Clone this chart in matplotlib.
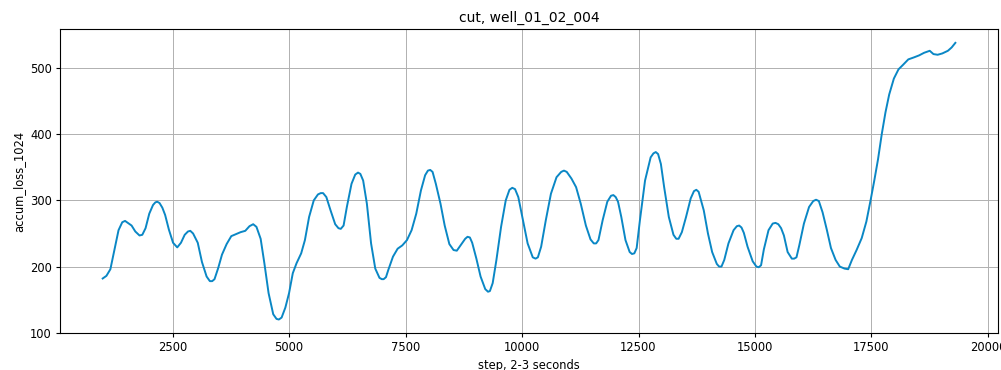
import matplotlib
matplotlib.use("Agg")
import matplotlib.pyplot as plt

# pasos y pérdida acumulada
steps = [1000, 1080, 1165, 1250, 1340, 1420, 1480, 1560, 1620, 1700, 1790, 1850, 1920, 2000,
         2080, 2130, 2170, 2220, 2280, 2340, 2420, 2510, 2600, 2680, 2760, 2830, 2880, 2940,
         3040, 3130, 3230, 3300, 3350, 3400, 3480, 3560, 3660, 3760, 3860, 3960, 4060, 4150,
         4230, 4300, 4390, 4470, 4560, 4660, 4730, 4780, 4840, 4920, 5000, 5080, 5160, 5260,
         5340, 5430, 5530, 5620, 5680, 5730, 5800, 5890, 5990, 6060, 6110, 6170, 6240, 6340,
         6420, 6480, 6530, 6590, 6670, 6760, 6850, 6940, 6990, 7030, 7080, 7130, 7230, 7330,
         7430, 7530, 7630, 7730, 7830, 7920, 7980, 8030, 8080, 8150, 8250, 8340, 8440, 8530,
         8600, 8680, 8780, 8830, 8880, 8930, 9020, 9110, 9210, 9270, 9310, 9370, 9450, 9550,
         9650, 9730, 9790, 9850, 9920, 10020, 10120, 10230, 10290, 10340, 10410, 10510, 10620,
         10740, 10840, 10900, 10960, 11060, 11160, 11260, 11370, 11470, 11540, 11590, 11640,
         11730, 11830, 11910, 11960, 12010, 12060, 12130, 12220, 12310, 12360, 12410, 12460,
         12530, 12640, 12760, 12820, 12870, 12920, 12980, 13050, 13150, 13250, 13310, 13360,
         13430, 13520, 13620, 13690, 13740, 13790, 13850, 13900, 13990, 14080, 14180, 14230,
         14280, 14340, 14430, 14540, 14610, 14660, 14710, 14760, 14840, 14950, 15030, 15080,
         15130, 15190, 15290, 15380, 15440, 15500, 15560, 15620, 15700, 15790, 15840, 15890,
         15950, 16050, 16160, 16250, 16310, 16370, 16450, 16540, 16630, 16730, 16820, 16920,
         17000, 17080, 17180, 17290, 17390, 17480, 17560, 17640, 17720, 17800, 17880, 17980,
         18080, 18180, 18290, 18410, 18520, 18630, 18750, 18830, 18920, 19020, 19140, 19220,
         19300]
loss = [182, 186, 196, 225, 255, 267, 269, 265, 262, 253, 247, 248, 258, 280,
        293, 297, 298, 296, 289, 278, 256, 236, 229, 236, 248, 253, 254, 250,
        236, 207, 185, 178, 178, 181, 198, 218, 234, 246, 249, 252, 254, 261,
        264, 260, 242, 205, 160, 128, 121, 120, 123, 138, 160, 190, 205, 220,
        240, 275, 300, 309, 311, 311, 305, 285, 264, 258, 257, 262, 290, 325,
        339, 342, 340, 330, 295, 235, 197, 183, 181, 181, 184, 195, 215, 227,
        232, 240, 255, 280, 315, 338, 345, 346, 343, 325, 295, 262, 234, 225,
        224, 232, 242, 245, 244, 236, 212, 185, 166, 162, 163, 175, 210, 260,
        300, 316, 319, 317, 305, 270, 235, 214, 212, 214, 230, 270, 310,
        335, 343, 345, 343, 333, 320, 295, 262, 241, 235, 235, 240,
        270, 298, 307, 308, 305, 298, 275, 240, 222, 219, 220, 228,
        270, 330, 365, 371, 373, 370, 355, 320, 275, 248, 242, 242,
        252, 275, 303, 314, 316, 313, 298, 285, 250, 222, 204, 200,
        200, 210, 235, 255, 261, 262, 259, 251, 230, 208, 200, 199,
        202, 226, 255, 265, 266, 264, 258, 247, 222, 212, 212, 214,
        232, 265, 290, 299, 301, 299, 282, 256, 228, 210, 200, 197,
        196, 210, 225, 243, 268, 300, 330, 362, 400, 433, 460, 484,
        498, 505, 513, 516, 519, 523, 526, 521, 520, 522, 526, 531,
        538]

plt.rcParams["xtick.labelsize"] = 8.3
plt.rcParams["ytick.labelsize"] = 8.3
plt.rcParams["axes.labelsize"] = 8.3
plt.rcParams["xtick.major.size"] = 2.9
plt.rcParams["ytick.major.size"] = 2.9
plt.rcParams["xtick.major.pad"] = 2.9
plt.rcParams["ytick.major.pad"] = 2.9
plt.rcParams["axes.linewidth"] = 0.8
plt.rcParams["grid.linewidth"] = 0.7

fig = plt.figure(figsize=(10.01, 3.7), dpi=100)
ax = fig.add_axes([0.06, 0.099, 0.937, 0.8226])
ax.plot(steps, loss, color="#0a87c5", linewidth=1.4)

ax.set_title("cut, well_01_02_004", fontsize=10, pad=4.9)
ax.set_xlabel("step, 2-3 seconds", labelpad=3.3)
ax.set_ylabel("accum_loss_1024", labelpad=3.3)
ax.set_yticks([100, 200, 300, 400, 500])
ax.grid(True)

fig.savefig("out.png", dpi=100)
